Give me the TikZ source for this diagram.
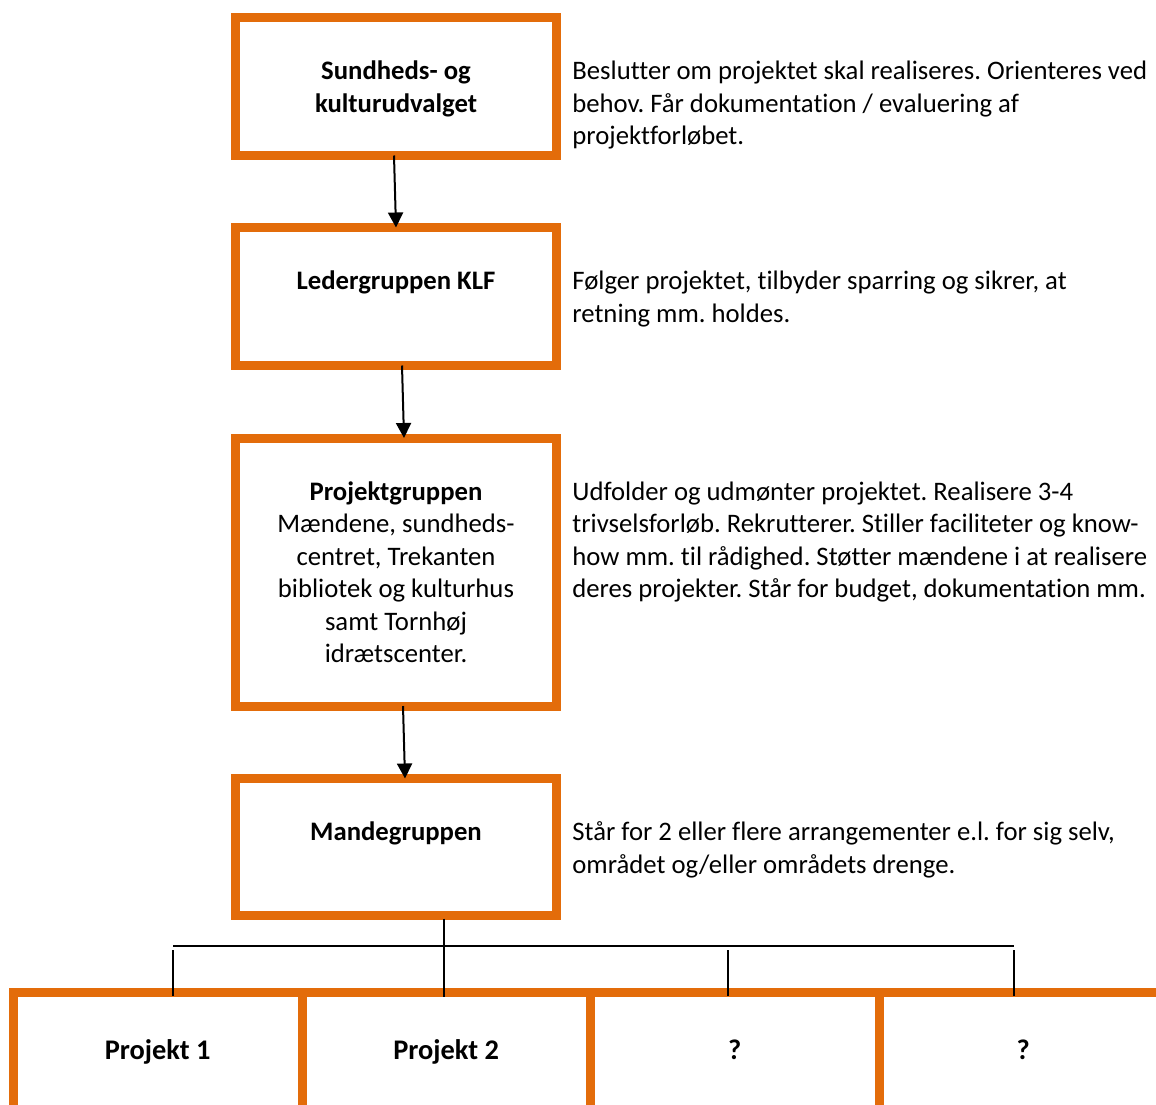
\documentclass[tikz,border=0pt]{standalone}
\usepackage{fontspec}
\setmainfont[Ligatures={NoCommon}]{Carlito}
\usetikzlibrary{arrows.meta,positioning}
\definecolor{kasse}{HTML}{E36C0A}
\frenchspacing
\begin{document}
\begin{tikzpicture}[x=0.5pt,y=-0.5pt,
  boks/.style={draw=kasse,line width=4.5pt,minimum width=160.5pt,inner sep=0pt,outer sep=0pt},
  projboks/.style={draw=kasse,line width=4.5pt,minimum width=144.25pt,minimum height=100pt,inner sep=0pt,outer sep=0pt,anchor=north west},
  tekst/.style={font=\fontsize{13.35}{16.25}\selectfont,inner sep=0pt},
  pil/.style={line width=1pt,-{Triangle[length=7.5pt,width=7.5pt]}},
  streg/.style={line width=0.75pt}]
\useasboundingbox (0,0) rectangle (1156,1104);
\node[boks,minimum height=69pt] (b1) at (396,86.5) {};\node[boks,minimum height=69pt] (b2) at (396,296.5) {};
\node[boks,minimum height=134pt] (b3) at (396,572) {};\node[boks,minimum height=68.5pt] (b4) at (396,847) {};
\node[projboks] (p1) at (13.5,992.5) {};\node[projboks] (p2) at (302,992.5) {};
\node[projboks] (p3) at (590.5,992.5) {};\node[projboks] (p4) at (879,992.5) {};
\node[tekst,anchor=north,align=center] (n1) at ([yshift=-19.6pt]b1.north) {\strut\textbf{Sundheds- og}\\\textbf{kulturudvalget}};
\node[tekst,anchor=north,align=center] (n2) at ([yshift=-19.6pt]b2.north) {\strut\textbf{Ledergruppen KLF}};
\node[tekst,anchor=north,align=center] (n3) at ([yshift=-19.6pt]b3.north) {\strut\textbf{Projektgruppen}\\Mændene, sundheds-\\centret, Trekanten\\bibliotek og kulturhus\\samt Tornhøj\\idrætscenter.};
\node[tekst,anchor=north,align=center] (n4) at ([yshift=-19.6pt]b4.north) {\strut\textbf{Mandegruppen}};
\node[tekst,anchor=north west,align=left] (d1) at ([xshift=7.75pt,yshift=-19.6pt]b1.north east) {\strut Beslutter om projektet skal realiseres. Orienteres ved\\behov. Får dokumentation / evaluering af\\projektforløbet.};
\node[tekst,anchor=north west,align=left] (d2) at ([xshift=7.75pt,yshift=-19.6pt]b2.north east) {\strut Følger projektet, tilbyder sparring og sikrer, at\\retning mm. holdes.};
\node[tekst,anchor=north west,align=left] (d3) at ([xshift=7.75pt,yshift=-19.6pt]b3.north east) {\strut Udfolder og udmønter projektet. Realisere 3-4\\trivselsforløb. Rekrutterer. Stiller faciliteter og know-\\how mm. til rådighed. Støtter mændene i at realisere\\deres projekter. Står for budget, dokumentation mm.};
\node[tekst,anchor=north west,align=left] (d4) at ([xshift=7.75pt,yshift=-19.6pt]b4.north east) {\strut Står for 2 eller flere arrangementer e.l. for sig selv,\\området og/eller områdets drenge.};
\foreach \p/\t in {p1/Projekt 1,p2/Projekt 2,p3/?,p4/?}
  \node[tekst,font=\fontsize{14.2}{17}\selectfont\bfseries,anchor=base] (n\p) at ([yshift=-33.25pt]\p.north) {\t};
\draw[pil] ([xshift=-1pt]b1.south) -- (b2.north);
\draw[pil] ([xshift=3pt]b2.south) -- ([xshift=4pt]b3.north);
\draw[pil] ([xshift=3.5pt]b3.south) -- ([xshift=4.5pt]b4.north);
\coordinate (midt) at ([xshift=24pt,yshift=-1.5pt]b4.south);
\draw[streg] (midt) -- ([yshift=-2pt]midt |- p2.north);
\coordinate (venstre) at (173,946);\coordinate (hoejre) at (1014,946);
\draw[streg] (venstre) -- (hoejre);
\foreach \x/\p in {173/p1,728/p3,1014/p4}{\coordinate (k\p) at (\x,950);\draw[streg] (k\p) -- ([yshift=-1.5pt]k\p |- \p.north);}
\end{tikzpicture}
\end{document}
